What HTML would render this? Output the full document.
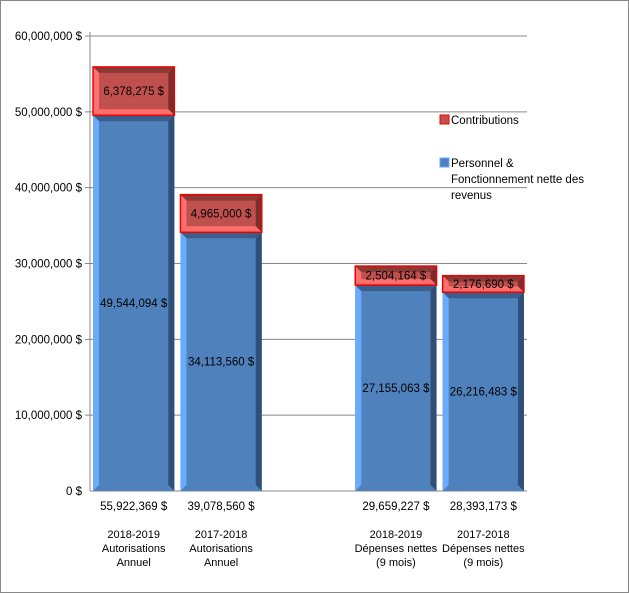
<!DOCTYPE html>
<html><head><meta charset="utf-8"><style>
body{margin:0;background:#fff}
svg{display:block;font-family:"Liberation Sans",sans-serif}
</style></head><body>
<svg id="c" width="629" height="593" viewBox="0 0 629 593" xmlns="http://www.w3.org/2000/svg">
<rect x="0.5" y="0.5" width="628" height="592" fill="#fff" stroke="#888"/>
<g id="grid"></g><g id="bars"></g><g id="labels"></g>
<g font-size="11.5" fill="#000">
<rect x="440" y="115" width="9" height="9" fill="#c0504d" stroke="#e00"/>
<text x="451" y="124">Contributions</text>
<rect x="440" y="158" width="9" height="9" fill="#4f81bd" stroke="#6aaaff"/>
<text x="451" y="167"><tspan x="451">Personnel &amp;</tspan><tspan x="451" dy="16">Fonctionnement nette des</tspan><tspan x="451" dy="16">revenus</tspan></text>
</g>
</svg>
<script>
const categories=[["2018-2019","Autorisations","Annuel"],["2017-2018","Autorisations","Annuel"],null,["2018-2019","Dépenses nettes","(9 mois)"],["2017-2018","Dépenses nettes","(9 mois)"]];
const personnel=[49544094,34113560,null,27155063,26216483];
const contributions=[6378275,4965000,null,2504164,2176690];
const totals=["55,922,369 $","39,078,560 $",null,"29,659,227 $","28,393,173 $"];
const yTicks=[0,10000000,20000000,30000000,40000000,50000000,60000000];
const NS="http://www.w3.org/2000/svg";
const x0=90,x1=527,y0=491,y1=36,yMax=60000000;
const y=v=>y0-(v/yMax)*(y0-y1);
const slot=(x1-x0)/categories.length;
function el(t,a,p){const e=document.createElementNS(NS,t);for(const k in a)e.setAttribute(k,a[k]);p.appendChild(e);return e;}
const fmt=n=>n.toLocaleString('en-US')+" $";
const g=document.getElementById('grid');
yTicks.forEach(v=>{
 const l=el('line',{x1:v===0?x0:x0-5,x2:x1,y1:y(v),y2:y(v),stroke:'#888'},g);
 
 
 const t=el('text',{x:x0-8,y:y(v)+4,'text-anchor':'end','font-size':11.5},g);
 t.textContent=fmt(v);
 
 
});
const ax=el('line',{x1:x0,x2:x0,y1:y1-4,y2:y0,stroke:'#888'},g);


const B=document.getElementById('bars'),L=document.getElementById('labels');
function bevelBar(x,w,top,bot,c,name,stroke){
 const gg=el('g',{},B);
 
 
 const b=6;
 el('rect',{x:x,y:top,width:w,height:bot-top,fill:c.main},gg);
 el('polygon',{points:`${x},${top} ${x+w},${top} ${x+w-b},${top+b} ${x+b},${top+b}`,fill:c.top},gg);
 el('polygon',{points:`${x},${top} ${x+b},${top+b} ${x+b},${bot-b} ${x},${bot}`,fill:c.left},gg);
 el('polygon',{points:`${x+w},${top} ${x+w},${bot} ${x+w-b},${bot-b} ${x+w-b},${top+b}`,fill:c.right},gg);
 el('polygon',{points:`${x},${bot} ${x+w},${bot} ${x+w-b},${bot-b} ${x+b},${bot-b}`,fill:c.bot},gg);
 if(stroke)el('rect',{x:x,y:top,width:w,height:bot-top,fill:'none',stroke:stroke,'stroke-width':1.5},gg);
}
const blue={main:'#4f81bd',top:'#3a5f8c',left:'#6aaaff',right:'#2f4f78',bot:'#4f81bd'};
const red={main:'#c0504d',top:'#8b3a38',left:'#ff7070',right:'#7a2e2c',bot:'#ff6e6a'};
categories.forEach((c,i)=>{
 if(!c)return;
 const cx=x0+slot*(i+0.5),w=slot*0.93,bx=cx-w/2;
 const yp=y(personnel[i]),yt=y(personnel[i]+contributions[i]);
 bevelBar(bx,w,yp,y0,blue,'bar-personnel-'+i);
 bevelBar(bx,w,yt,yp,red,'bar-contributions-'+i,'#e00');
 const t1=el('text',{x:cx,y:(yp+y0)/2+4,'text-anchor':'middle','font-size':11.5},L);
 t1.textContent=fmt(personnel[i]);
 
 
 const t2=el('text',{x:cx,y:(yt+yp)/2+4,'text-anchor':'middle','font-size':11.5},L);
 t2.textContent=fmt(contributions[i]);
 
 
 const t3=el('text',{x:cx,y:510,'text-anchor':'middle','font-size':11.5},L);
 t3.textContent=totals[i];
 
 
 c.forEach((s,j)=>{
  const t=el('text',{x:cx,y:538+j*14,'text-anchor':'middle','font-size':11},L);
  t.textContent=s;
  
  
 });
});
</script>
</body></html>
